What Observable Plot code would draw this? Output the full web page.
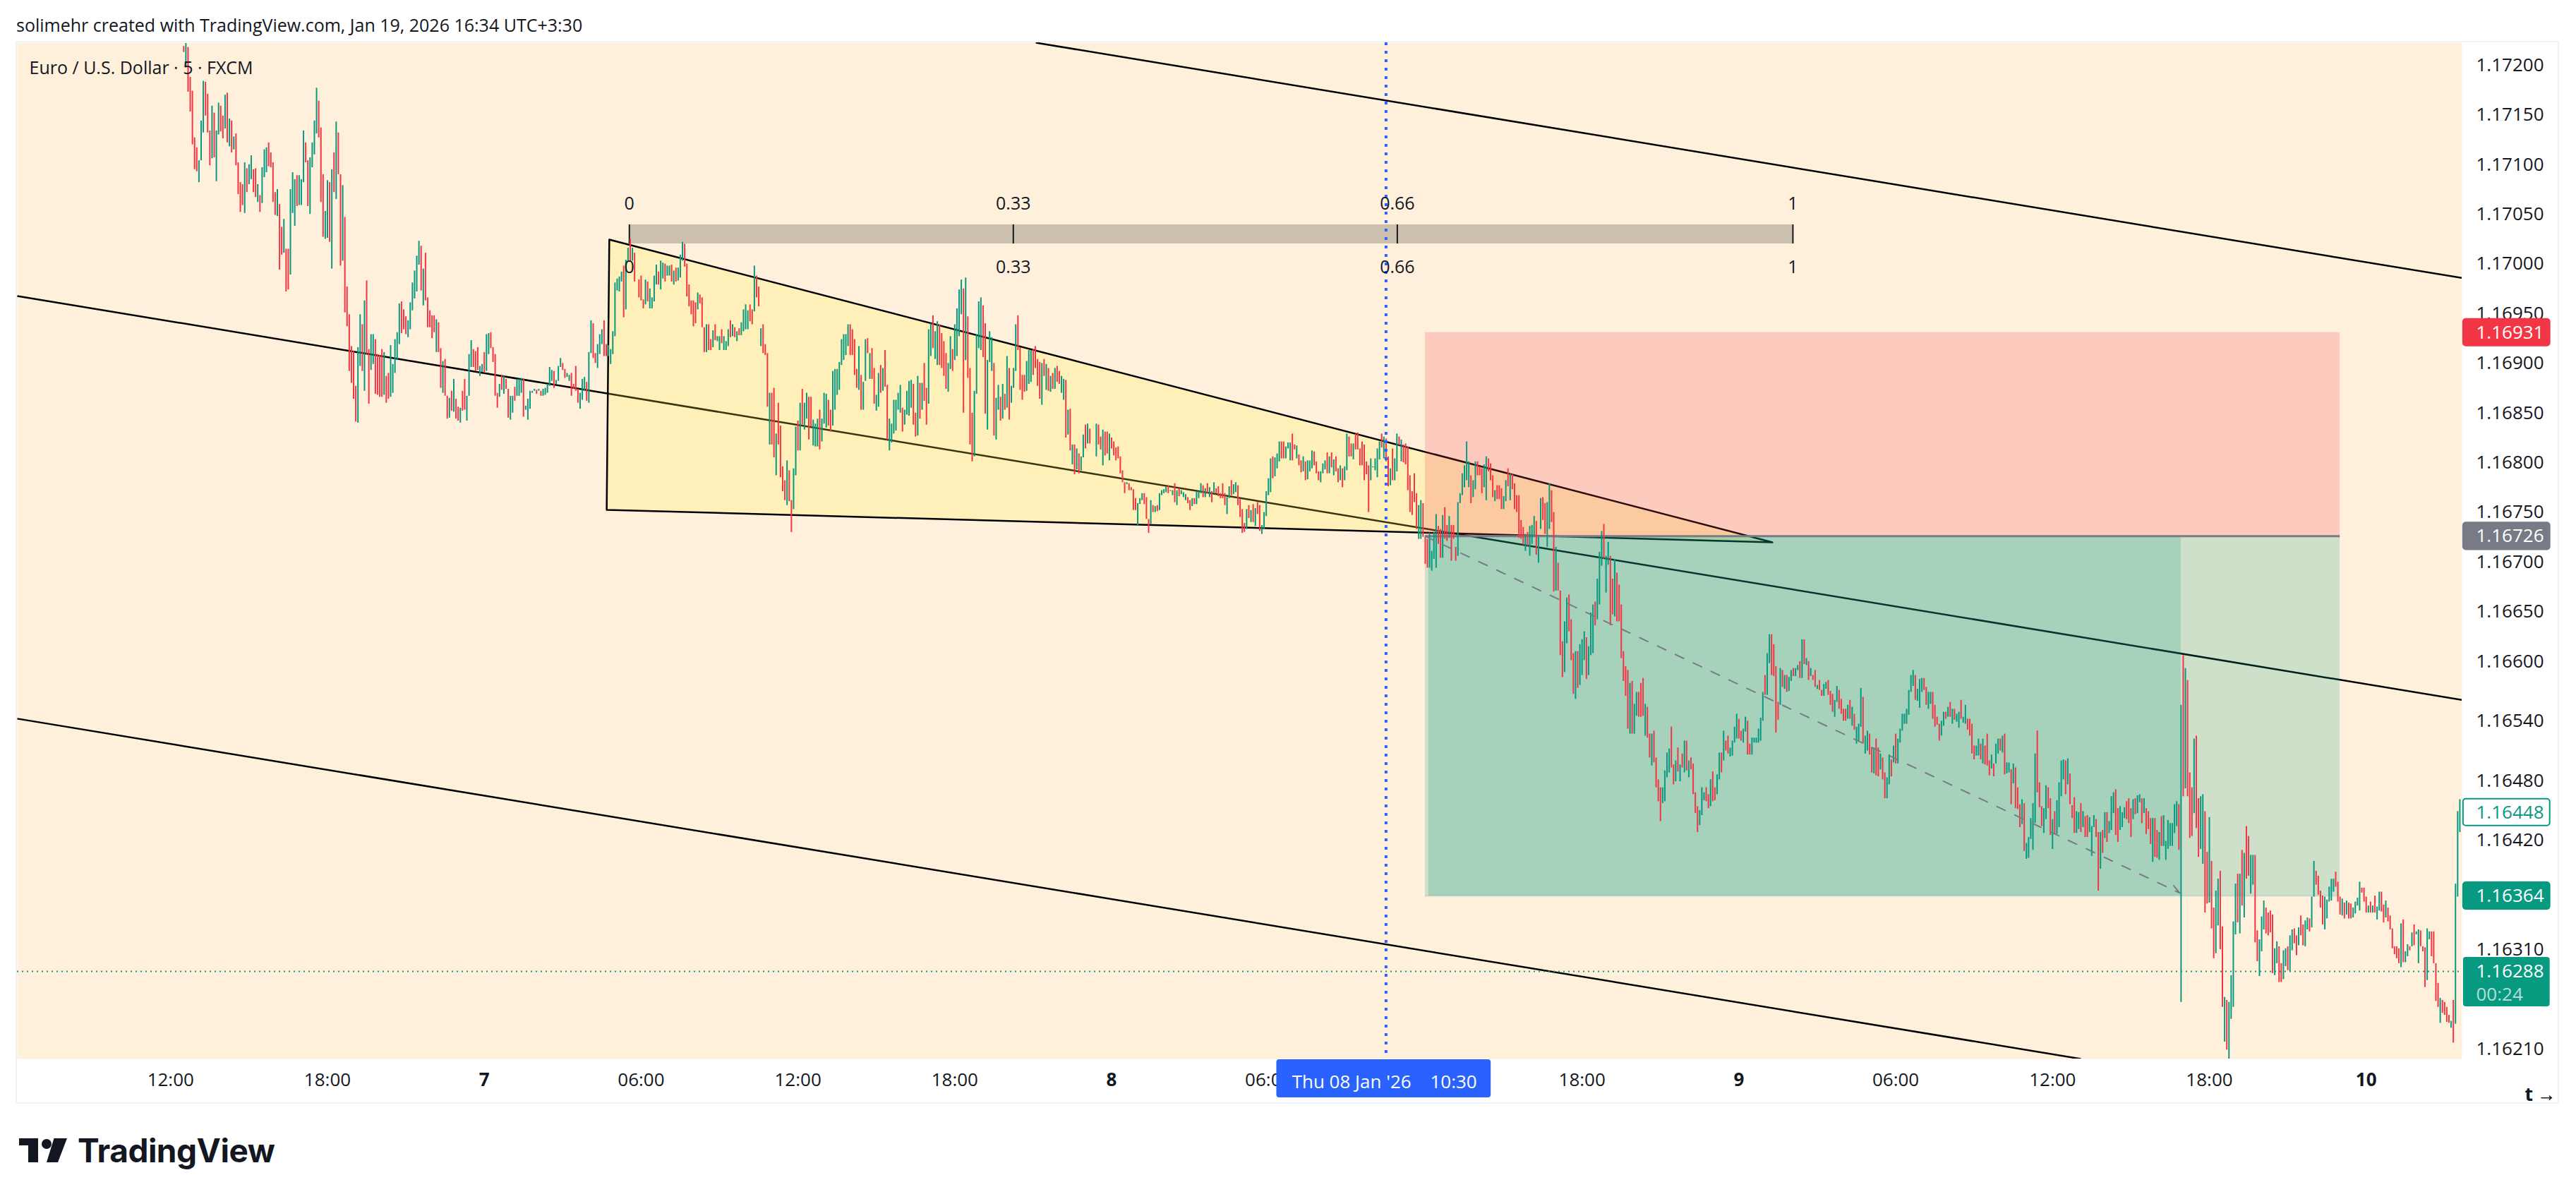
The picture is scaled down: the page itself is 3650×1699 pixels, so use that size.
<!DOCTYPE html>
<html><head><meta charset="utf-8">
<script src="https://cdn.jsdelivr.net/npm/d3@7"></script>
<script src="https://cdn.jsdelivr.net/npm/@observablehq/plot@0.6"></script>
<style>
html,body{margin:0;background:#fff;overflow:hidden;width:3650px;height:1699px;font-family:"Open Sans",sans-serif;color:#131722}
#title{position:absolute;left:23px;top:17px;font-size:25px;line-height:36px;white-space:nowrap}
#chart{position:absolute;left:22px;top:58px;width:3600px;height:1502px;border:2px solid #F0F3FA}
#logo{position:absolute;left:0;top:1600px}
#logoText{position:absolute;left:110px;top:1602px;font-family:Inter,sans-serif;font-weight:700;font-size:46px;line-height:56px;letter-spacing:-.5px;color:#131722}
</style></head><body>
<div id="title">solimehr created with TradingView.com, Jan 19, 2026 16:34 UTC+3:30</div>
<div id="chart"></div>
<svg id="logo" width="100" height="60" viewBox="0 0 100 60"><path fill="#131722" d="M27 13H54V47H40V23H27ZM76.500 13H95L82 47H66Z"/><circle fill="#131722" cx="66" cy="21" r="7"/></svg>
<div id="logoText">TradingView</div>
<script>
const priceBase = 1.16;
const sectionStarts = ["2026-01-06T12:30Z","2026-01-07T05:55Z","2026-01-07T23:25Z","2026-01-08T16:55Z","2026-01-09T10:25Z"];
const section1 = [1219,1213,1198,1222,1218,1173,1188,1153,1174,1120,1127,1095,1117,1093,1082,1104,1104,1144,1132,1184,1183,1149,1171,1132,1134,1099,1106,1159,1152,1107,1083,1134,1130,1162,1159,1133,1149,1126,1136,1170,1172,1122,1118,1146,1144,1112,1115,1128,1131,1099,1102,1070,1082,1052,1080,1059,1051,1102,1096,1072,1080,1100,1085,1109,1095,1072,1096,1067,1062,1080,1069,1052,1061,1097,1087,1115,1092,1117,1122,1098,1112,1097,1102,1062,1072,1049,1048,1075,1060,994,1037,1009,1011,1045,1015,972,1015,974,989,1075,1051,1092,1038,1085,1089,1058,1059,1089,1059,1085,1082,1134,1122,1102,1104,1058,1050,1107,1097,1122,1110,1144,1131,1177,1164,1127,1137,1062,1090,1027,1025,1053,1026,1084,1082,1022,995,1095,1112,1072,1065,1143,1132,1090,1090,998,1003,1079,1047,951,977,937,949,892,917,880,912,864,877,841,840,916,897,949,939,892,872,963,983,909,914,859,893,929,899,929,924,869,909,868,908,866,914,866,868,911,887,860,890,864,866,918,870,899,890,924,903,931,919,960,962,930,954,934,947,929,926,943,934,961,953,981,965,993,972,1008,999,1023,1018,973,958,995,1011,963,966,936,953,936,948,925,948,931,911,944,941,911,915,875,870,902,904,867,867,844,845,865,872,852,851,884,864,844,856,842,840,855,872,852,884,853,842,867,867,909,896,923,914,896,912,892,916,893,887,897,891,899,911,890,892,929,909,930,931,915,916,901,909,867,870,855,866,879,888,873,869,887,884,874,874,845,843,867,850,867,876,862,867,884,867,884,870,885,884,846,853,857,843,864,854,872,870,872,872,874,873,869,872,874,872,867,867,874,868,875,870,879,877,896,882,893,892,875,879,883,882,897,896,905,900,893,894,885,886,890,882,888,890,867,879,874,897,872,874,860,854,870,863,884,872,886,881,862,860,911,910,943,940,905,910,900,895,919,909,929,919,934,943,907,919,907,907,918,899,914,909,932,927,981,973,985,972,987,982,992,998,946,954,1004,1003,1016,1025,1003,1003,1016,1011,982];
const section2 = [984,966,988,963,964,955,959,984,982,962,955,975,955,966,962,988,979,999,992,979,974,1003,985,1001,1000,982,988,998,988,998,999,982,979,993,996,982,983,996,986,1009,1003,1022,1020,997,1000,967,979,957,963,949,963,937,961,940,954,971,969,960,966,936,936,911,911,939,939,913,924,913,916,933,939,923,922,927,913,927,934,920,913,927,913,922,917,934,943,926,927,939,936,926,922,932,935,928,928,941,932,954,934,959,934,953,959,942,954,939,952,998,988,966,977,957,917,935,939,910,919,908,910,856,818,870,870,818,875,805,787,829,860,818,837,785,796,771,782,762,757,802,792,761,762,730,753,794,787,836,842,812,812,860,874,838,833,860,844,870,866,823,866,836,817,843,816,839,816,844,853,813,821,844,839,870,835,869,863,837,853,831,837,892,853,894,868,894,873,901,898,924,903,929,908,929,917,939,939,908,934,908,924,888,894,875,873,917,888,853,853,881,882,924,925,910,884,910,915,884,895,859,852,868,856,890,898,870,872,895,913,876,878,823,812,844,820,839,829,863,832,863,853,870,850,878,855,831,838,853,848,872,847,882,855,883,879,838,850,826,827,887,880,844,853,880,900,862,875,838,859,934,907,940,948,915,904,932,898,942,939,898,930,895,922,887,910,874,871,900,894,927,914,892,903,939,907,955,927,974,949,984,975,850,903,986,947,885,895,818,850,801,806,872,869,929,915,962,913,966,958,906,940,849,833,903,901,932,892,926,900,827,823,865,853,878,866,842,844,879,869,853,855,907,895,843,860,877,875,895,892,939,948,913,916,873,888,863,888,871,872,902,879,913,881,913,914,888,917,895,904,877,901,864,858,900,904,887,873,899,895,872,871,887,890,874,874,895,897,881,892,879,870,887,863,884,883,825,828,853,854,812,798,818,818,788,793,814,809,789,792,806,805,828,838,814,819,839,834,819];
const section3 = [806,839,838,818,826,813,797,833,831,807,831,809,802,829,825,814,821,807,815,802,816,804,806,789,792,780,780,769,778,780,779,772,775,772,773,752,764,752,737,759,758,764,762,769,769,758,765,743,743,729,738,762,757,750,750,756,757,751,752,769,767,772,769,773,770,776,777,769,772,771,767,772,779,760,757,772,774,766,768,772,765,770,762,768,765,759,762,752,756,764,764,758,758,771,764,771,769,779,777,765,765,774,779,769,765,775,771,760,769,780,774,769,776,766,769,764,779,764,769,757,748,765,764,776,782,767,768,778,770,780,777,757,763,745,753,729,739,730,733,753,757,744,740,752,758,740,736,754,760,748,757,731,728,737,733,750,746,771,767,784,770,804,806,784,786,805,794,809,801,821,821,804,821,804,804,816,814,820,802,820,829,802,818,813,804,817,808,797,802,790,791,806,801,782,783,802,791,802,794,812,811,797,801,789,791,782,780,791,789,799,793,802,810,789,789,806,810,795,787,803,806,791,794,780,782,797,794,775,782,796,792,829,826,806,819,806,803,819,829,813,830,813,814,797,821,797,818,782,801,788,797,750,782,804,795,796,792,804,785,814,803,821,829,815,804,826,824,801,806,776,777,794,814,782,782,804,791,829,826,817,801,823,818,800,819,798,816,772,787,750,771,747,789,760,769,733,723,757,723,762,759,725,725,698,723,694,694,729,691,711,703,730,694,748,736,718,733,704,704,747,755,723,737,721,724,746,737,701,737,723,715,701,706,760,759,769,767,789,775,797,782,821,775,801,787,759,765,782,773,801,801,787,796,787,794,769,775,798,762,806,804,791,799,782,787,765,761,772,777,763,777,763,774,753,753,766,761,782,794,776,762,789,788,773,779,753,767,750,767,724,742,723,735,717,711,728,730,716,706,736,718,737,726,746,741,707,699,725,733,764,765,742,759,728,715,760,733,779,772,740];
const section4 = [750,670,671,715,699,671,671,606,620,584,589,640,618,664,667,630,642,601,608,567,562,610,610,573,576,617,586,622,601,630,624,582,586,615,606,649,608,657,660,636,642,683,657,710,696,731,738,703,669,706,697,720,706,636,683,647,645,703,689,640,677,640,657,603,610,580,595,565,591,532,527,578,580,527,527,557,545,569,569,544,578,544,583,545,525,557,554,523,527,503,495,527,530,498,503,473,481,459,473,439,457,473,459,490,483,508,488,512,534,493,496,476,479,500,513,489,479,496,507,493,488,520,520,490,483,500,503,491,497,466,468,447,454,428,435,450,445,473,460,468,473,459,466,452,454,481,489,459,473,460,466,486,481,508,508,488,500,530,520,510,525,507,504,513,505,520,518,534,522,547,542,522,530,520,518,532,529,544,540,506,517,506,506,523,518,523,518,523,518,532,520,543,540,569,586,566,566,608,598,627,627,586,617,585,595,528,559,541,556,593,591,574,572,586,586,569,570,584,580,591,593,585,585,593,591,596,600,583,583,622,622,597,596,603,600,581,585,593,586,581,591,574,572,576,581,571,571,565,565,577,572,579,581,566,570,556,567,549,544,561,559,575,571,552,562,547,552,540,552,540,542,556,561,542,535,554,547,531,517,534,520,537,534,573,564,517,507,525,510,530,527,506,513,488,487,513,522,485,513,484,491,507,503,481,488,462,462,483,476,506,501,484,498,515,527,497,497,522,518,532,530,547,537,547,537,552,546,571,569,586,575,591,586,561,560,572,553,582,569,583,583,571,574,556,552,569,557,569,569,542,556,534,544,536,537,520,525,540,535,549,549,542,544,554,559,544,537,552,552,541,539,547,533,549,561,542,538,544,537,556,542,531,542,525,537,507,515,501,505,515,505,522,517,501,497,522,515,496,527,495,500,485,492,506,497,484,497,517,507,522,522,510,508,525,527,486,487,498,488,498];
const section5 = [491,456,477,497,493,452,473,451,456,433,436,461,457,409,401,417,402,423,421,442,410,457,437,507,530,468,478,453,454,434,427,452,441,475,473,452,462,425,411,441,449,426,426,460,433,478,464,500,481,501,500,466,476,502,487,456,455,442,463,427,427,449,431,448,457,428,433,449,444,423,445,423,428,443,404,434,433,445,441,423,428,369,391,428,430,407,422,448,448,418,427,439,430,464,447,468,471,425,452,418,430,454,433,448,442,453,459,441,462,437,452,423,441,461,462,446,447,465,458,466,462,437,447,462,452,426,449,431,442,416,398,442,442,403,430,402,400,428,444,414,414,445,400,419,411,440,414,437,414,437,427,456,434,459,456,410,257,556,606,464,472,593,581,464,488,422,473,424,447,522,525,432,462,403,411,464,396,466,449,347,408,356,357,443,399,331,352,301,306,369,334,381,389,310,333,252,217,262,259,209,200,257,240,284,252,338,325,376,386,337,326,386,410,354,342,407,434,381,424,384,366,405,375,405,405,317,329,298,283,320,308,343,330,359,352,326,347,324,349,327,345,286,284,311,296,318,313,277,296,277,280,309,293,311,313,289,288,324,309,330,331,316,324,304,314,332,344,324,335,314,313,339,330,342,341,328,332,363,363,399,389,375,384,365,369,352,364,335,330,363,341,360,358,373,359,381,368,381,388,373,378,358,363,345,344,361,357,341,345,359,357,341,356,341,342,352,346,358,354,362,349,378,372,367,372,358,363,347,347,354,358,347,347,354,364,347,340,353,349,368,368,348,355,337,342,359,352,338,344,330,331,311,313,305,313,301,311,296,292,336,340,297,297,308,303,315,313,309,313,327,335,314,325,328,296,330,329,313,313,308,312,272,279,331,320,328,328,303,328,296,296,258,276,252,236,261,259,246,257,244,252,237,244,236,231,238,259,216,235,376,363,449,428,461];

const priceTicks = [1.172,1.1715,1.171,1.1705,1.17,1.1695,1.169,1.1685,1.168,1.1675,1.167,1.1665,1.166,1.1654,1.1648,1.1642,1.1631,1.1621];
const hourTicks = ["2026-01-06T12:00Z","2026-01-06T18:00Z","2026-01-07T06:00Z","2026-01-07T12:00Z","2026-01-07T18:00Z","2026-01-08T06:00Z","2026-01-08T12:00Z","2026-01-08T18:00Z","2026-01-09T06:00Z","2026-01-09T12:00Z","2026-01-09T18:00Z"];
const dayTicks = ["2026-01-07T00:00Z","2026-01-08T00:00Z","2026-01-09T00:00Z","2026-01-10T00:00Z"];

// Trend channel: time, price pairs
const channelLines = [
  {t1:"2026-01-07T21:06Z",p1:1.172227,t2:"2026-01-10T03:40Z",p2:1.169859},
  {t1:"2026-01-06T06:08Z",p1:1.169678,t2:"2026-01-10T03:40Z",p2:1.165612},
  {t1:"2026-01-06T06:08Z",p1:1.165424,t2:"2026-01-09T13:05Z",p2:1.162}
];
const wedgeTimes = ["2026-01-07T04:47Z","2026-01-07T04:41Z","2026-01-09T01:17Z","2026-01-07T04:47Z"];
const wedgePrices = [1.170246,1.167526,1.167199,1.170246];

const stopPrice = 1.16931, entryPrice = 1.16726, targetPrice = 1.16364, lastPrice = 1.16288;
const positionStart = "2026-01-08T12:00Z", positionEnd = "2026-01-09T23:00Z", positionHit = "2026-01-09T16:55Z";

const fibLevels = [0,0.33,0.66,1];
const fibStart = "2026-01-07T05:33Z", fibEnd = "2026-01-09T02:04Z", fibTop = 1.170395, fibBottom = 1.170203;

const crosshairTime = "2026-01-08T10:30Z";
const tagHalf = 0.000135;
const priceTags = [
  {price:stopPrice,label:"1.16931",fill:"#F23645",stroke:"#F23645",text:"#fff"},
  {price:entryPrice,label:"1.16726",fill:"#787B86",stroke:"#787B86",text:"#fff"},
  {price:1.16448,label:"1.16448",fill:"#fff",stroke:"#089981",text:"#089981"},
  {price:targetPrice,label:"1.16364",fill:"#089981",stroke:"#089981",text:"#fff"}
];

const D = s => new Date(s);
const fibT = l => new Date(+D(fibStart) + l*(D(fibEnd)-D(fibStart)));
const bars = [];
[section1,section2,section3,section4,section5].forEach((arr,k)=>{
  const t0 = +D(sectionStarts[k]);
  for(let i=0;i<arr.length;i+=2){
    bars.push({t:new Date(t0+i/2*3e5),open:priceBase+arr[i]/1e5,close:priceBase+arr[i+1]/1e5});
  }
});
const wedge = wedgeTimes.map((t,i)=>({t:D(t),p:wedgePrices[i]}));
const txt = {fontFamily:"Open Sans",fontSize:26};
const tagX1 = D("2026-01-10T03:43Z"), tagX2 = D("2026-01-10T07:02Z");
const positionRect = (t1,t2,p1,p2,fill)=>Plot.rect([0],{x1:()=>D(t1),x2:()=>D(t2),y1:()=>p1,y2:()=>p2,fill,fillOpacity:.2,clip:true});

const chart = Plot.plot({
  width:3600,height:1502,marginLeft:0,marginRight:136,marginTop:0,marginBottom:62,
  style:{background:"transparent",overflow:"visible",color:"#131722",fontFamily:"Open Sans",fontSize:"26px"},
  x:{type:"utc",domain:[D("2026-01-06T06:08Z"),D("2026-01-10T03:40Z")],axis:null},
  y:{domain:[1.162,1.172227],axis:null},
  color:{type:"identity"},
  marks:[
    Plot.frame({fill:"#FFF0DC",stroke:"none"}),
    Plot.axisX({anchor:"bottom",ticks:hourTicks.map(D),tickFormat:d3.utcFormat("%H:%M"),tickSize:0,tickPadding:20,fontSize:26}),
    Plot.axisX({anchor:"bottom",ticks:dayTicks.map(D),tickFormat:d3.utcFormat("%-d"),tickSize:0,tickPadding:20,fontSize:26,fontWeight:700}),
    Plot.axisY({anchor:"right",ticks:priceTicks,tickFormat:d3.format(".5f"),tickSize:0,tickPadding:20,fontSize:26}),
    Plot.link(channelLines,{x1:d=>D(d.t1),y1:"p1",x2:d=>D(d.t2),y2:"p2",stroke:"#000",strokeWidth:2.5,clip:true}),
    Plot.line(wedge,{x:"t",y:"p",fill:"#FFEB3B",fillOpacity:.22,stroke:"#000",strokeWidth:2.5}),
    positionRect(positionStart,positionEnd,stopPrice,entryPrice,"#F23645"),
    positionRect(positionStart,positionEnd,entryPrice,targetPrice,"#089981"),
    positionRect("2026-01-08T12:08Z",positionHit,entryPrice,targetPrice,"#089981"),
    Plot.ruleY([targetPrice],{x1:D(positionStart),x2:D(positionEnd),stroke:"#089981",strokeOpacity:.2,strokeWidth:2}),
    Plot.ruleY([entryPrice],{x1:D(positionStart),x2:D(positionEnd),stroke:"#787B86",strokeWidth:3}),
    Plot.rect([0],{x1:()=>fibT(0),x2:()=>fibT(1),y1:()=>fibBottom,y2:()=>fibTop,fill:"#CBBFAD"}),
    Plot.ruleX(fibLevels,{x:fibT,y1:fibBottom,y2:fibTop,stroke:"#131722",strokeWidth:2}),
    Plot.ruleX(bars,{x:"t",y1:"open",y2:"close",stroke:d=>d.close>=d.open?"#089981":"#F23645",strokeWidth:2,clip:true}),
    Plot.arrow([0],{x1:()=>D("2026-01-08T12:00Z"),y1:()=>entryPrice,x2:()=>D("2026-01-09T16:52Z"),y2:()=>1.16367,stroke:"#787B86",strokeWidth:2,strokeDasharray:"13,15",headLength:10,headAngle:50}),
    Plot.ruleY([lastPrice],{stroke:"#089981",strokeWidth:2,strokeDasharray:"2,5"}),
    Plot.ruleX([crosshairTime],{x:D,stroke:"#2962FF",strokeWidth:4,strokeDasharray:"4,8"}),
    Plot.text(fibLevels,{x:fibT,y:()=>fibTop,dy:-29,text:d=>String(d),fill:"#131722",fontSize:25}),
    Plot.text(fibLevels,{x:fibT,y:()=>fibBottom,dy:34,text:d=>String(d),fill:"#131722",fontSize:25}),
    Plot.text(["Euro / U.S. Dollar · 5 · FXCM"],{frameAnchor:"top-left",dx:17,dy:36,lineAnchor:"middle",fill:"#131722",fontSize:25}),
    Plot.rect(priceTags,{x1:()=>tagX1,x2:()=>tagX2,y1:d=>d.price-tagHalf,y2:d=>d.price+tagHalf,fill:d=>d.fill,stroke:d=>d.stroke,strokeWidth:2,rx:4}),
    Plot.text(priceTags,{frameAnchor:"right",y:"price",dx:20,textAnchor:"start",text:"label",fill:d=>d.text,fontSize:26}),
    Plot.rect([0],{x1:()=>tagX1,x2:()=>tagX2,y1:()=>1.162526,y2:()=>1.163023,fill:"#089981",rx:4}),
    Plot.text(["1.16288"],{frameAnchor:"right",y:()=>lastPrice,dx:20,textAnchor:"start",fill:"#fff",fontSize:26}),
    Plot.text(["00:24"],{frameAnchor:"right",y:()=>lastPrice,dx:20,dy:33,textAnchor:"start",fill:"#fff",fillOpacity:.7,fontSize:26}),
    Plot.rect([0],{x1:()=>D("2026-01-08T06:19Z"),x2:()=>D("2026-01-08T14:31Z"),y1:()=>1.16161,y2:()=>1.161993,fill:"#2962FF",rx:4}),
    Plot.text(["Thu 08 Jan '26"],{x:()=>D("2026-01-08T09:11Z"),frameAnchor:"bottom",dy:33,lineAnchor:"middle",fill:"#fff",fontSize:26}),
    Plot.text(["10:30"],{x:()=>D("2026-01-08T13:05Z"),frameAnchor:"bottom",dy:33,lineAnchor:"middle",fill:"#fff",fontSize:26})
  ]
});
document.getElementById("chart").appendChild(chart);
</script>
</body></html>
